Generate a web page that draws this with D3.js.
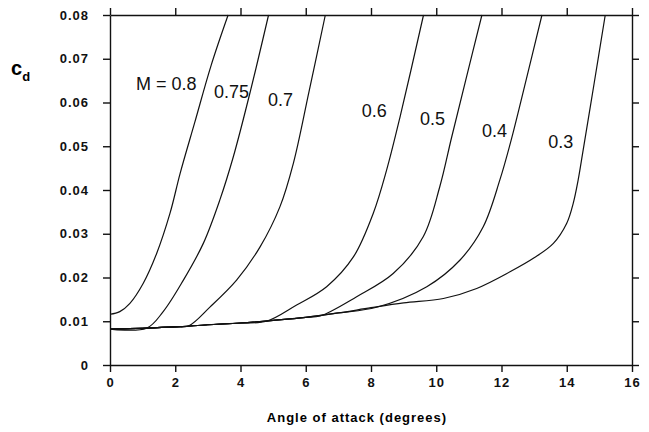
<!DOCTYPE html>
<html>
<head>
<meta charset="utf-8">
<script src="https://cdn.jsdelivr.net/npm/d3@7"></script>
<style>
  body { margin: 0; background: #fff; }
  svg { display: block; }
  .tick text { font-family: Arial, "Liberation Sans", sans-serif; font-weight: bold; font-size: 13px; letter-spacing: 1px; fill: #111; }
  .axis path, .axis line { stroke: #111; stroke-width: 1.4px; }
  .curve { fill: none; stroke: #111; stroke-width: 1.2px; }
  .mlabel { font-family: Arial, "Liberation Sans", sans-serif; font-size: 18px; fill: #111; }
</style>
</head>
<body>
<div id="chart"></div>
<script>
// angle of attack ticks and cd ticks
var xTicks = [0, 2, 4, 6, 8, 10, 12, 14, 16];
var yTicks = [0, 0.01, 0.02, 0.03, 0.04, 0.05, 0.06, 0.07, 0.08];

// common low-drag curve [alpha, cd]
var baseCurve = [[0, 0.0082], [1, 0.0084], [2, 0.0087], [3, 0.0092], [4, 0.0096], [5, 0.0102],
  [6, 0.0109], [7, 0.0119], [8, 0.0131], [9, 0.0142], [10, 0.0150]];

// rising branch of each Mach number, [alpha, cd]
var m08 = [[0, 0.0116], [0.3, 0.0122], [0.61, 0.0141], [1.02, 0.0187], [1.43, 0.0255], [1.84, 0.0347], [2.15, 0.0438], [2.6, 0.0555], [3.1, 0.0685], [3.62, 0.08]];
var m075 = [[1.12, 0.0084], [1.63, 0.0122], [2.25, 0.0194], [2.86, 0.0278], [3.37, 0.0378], [3.78, 0.0476], [4.3, 0.0625], [4.86, 0.08]];
var m07 = [[2.4, 0.0089], [3.07, 0.0133], [3.88, 0.0194], [4.60, 0.0270], [5.21, 0.0362], [5.62, 0.0461], [6.1, 0.0625], [6.6, 0.08]];
var m06 = [[4.8, 0.0100], [5.72, 0.0137], [6.64, 0.0179], [7.46, 0.0247], [8.07, 0.0347], [8.48, 0.0446], [8.9, 0.0570], [9.61, 0.08]];
var m05 = [[6.44, 0.0112], [7.56, 0.0156], [8.68, 0.0209], [9.60, 0.0293], [10.11, 0.0408], [10.47, 0.0520], [10.9, 0.0650], [11.4, 0.08]];
var m04 = [[8.17, 0.0132], [9.71, 0.0179], [10.73, 0.0240], [11.44, 0.0316], [11.95, 0.0423], [12.3, 0.0515], [12.75, 0.0650], [13.24, 0.08]];
var m03 = [[10.22, 0.0152], [11.24, 0.0175], [12.26, 0.0213], [13.0, 0.0245], [13.59, 0.0278], [14.0, 0.0324], [14.2, 0.0370], [14.35, 0.0423], [14.5, 0.0490], [14.84, 0.0644], [15.18, 0.08]];

var machLabels = ['M = 0.8', '0.75', '0.7', '0.6', '0.5', '0.4', '0.3'];
var labelAlpha = [0.80, 3.19, 4.84, 7.72, 9.50, 11.40, 13.43];
var labelCd = [0.0629, 0.0610, 0.0592, 0.0567, 0.0549, 0.0521, 0.0497];

var width = 649, height = 432;
var svg = d3.select('#chart').append('svg')
    .attr('width', width)
    .attr('height', height);

var x = d3.scaleLinear().domain([0, 16]).range([110, 632]);
var y = d3.scaleLinear().domain([0, 0.08]).range([365, 15]);

// join base part (before the curve leaves it) with the rising branch
function fullCurve(branch) {
    var start = branch[0][0];
    if (start === 0) return branch;
    return baseCurve.filter(function(p) { return p[0] < start - 0.3; }).concat(branch);
}

var curves = [m08, m075, m07, m06, m05, m04, m03].map(fullCurve);

var line = d3.line()
    .x(function(d) { return x(d[0]); })
    .y(function(d) { return y(d[1]); })
    .curve(d3.curveCatmullRom.alpha(0.5));

svg.selectAll('.curve')
    .data(curves)
    .enter()
    .append('path')
    .attr('class', 'curve')
    .attr('d', line);

// axes on all four sides, ticks pointing out
svg.append('g').attr('class', 'axis')
    .attr('transform', 'translate(0,' + y(0) + ')')
    .call(d3.axisBottom(x).tickValues(xTicks).tickSize(7).tickSizeOuter(0).tickPadding(6).tickFormat(d3.format('d')));
svg.append('g').attr('class', 'axis')
    .attr('transform', 'translate(0,' + y(0.08) + ')')
    .call(d3.axisTop(x).tickValues(xTicks).tickSize(7).tickSizeOuter(0).tickFormat(''));
svg.append('g').attr('class', 'axis')
    .attr('transform', 'translate(' + x(0) + ',0)')
    .call(d3.axisLeft(y).tickValues(yTicks).tickSize(7).tickSizeOuter(0).tickPadding(14)
        .tickFormat(function(d) { return d === 0 ? '0' : d3.format('.2f')(d); }));
svg.append('g').attr('class', 'axis')
    .attr('transform', 'translate(' + x(16) + ',0)')
    .call(d3.axisRight(y).tickValues(yTicks).tickSize(7).tickSizeOuter(0).tickFormat(''));

svg.selectAll('.axis text').attr('font-family', null).attr('font-size', null);

// Mach number labels
svg.selectAll('.mlabel')
    .data(machLabels)
    .enter()
    .append('text')
    .attr('class', 'mlabel')
    .attr('x', function(d, i) { return x(labelAlpha[i]); })
    .attr('y', function(d, i) { return y(labelCd[i]); })
    .text(function(d) { return d; });

// axis titles
svg.append('text')
    .attr('x', 357)
    .attr('y', 422)
    .attr('text-anchor', 'middle')
    .style('font-family', 'Arial, "Liberation Sans", sans-serif')
    .style('font-weight', 'bold')
    .style('font-size', '13px')
    .style('letter-spacing', '1px')
    .text('Angle of attack (degrees)');

var cd = svg.append('text')
    .attr('x', 11)
    .attr('y', 75)
    .style('font-family', 'Arial, "Liberation Sans", sans-serif')
    .style('font-weight', 'bold')
    .style('font-size', '20px');
cd.append('tspan').text('c');
cd.append('tspan').attr('dy', 6).style('font-size', '13px').text('d');
</script>
</body>
</html>
